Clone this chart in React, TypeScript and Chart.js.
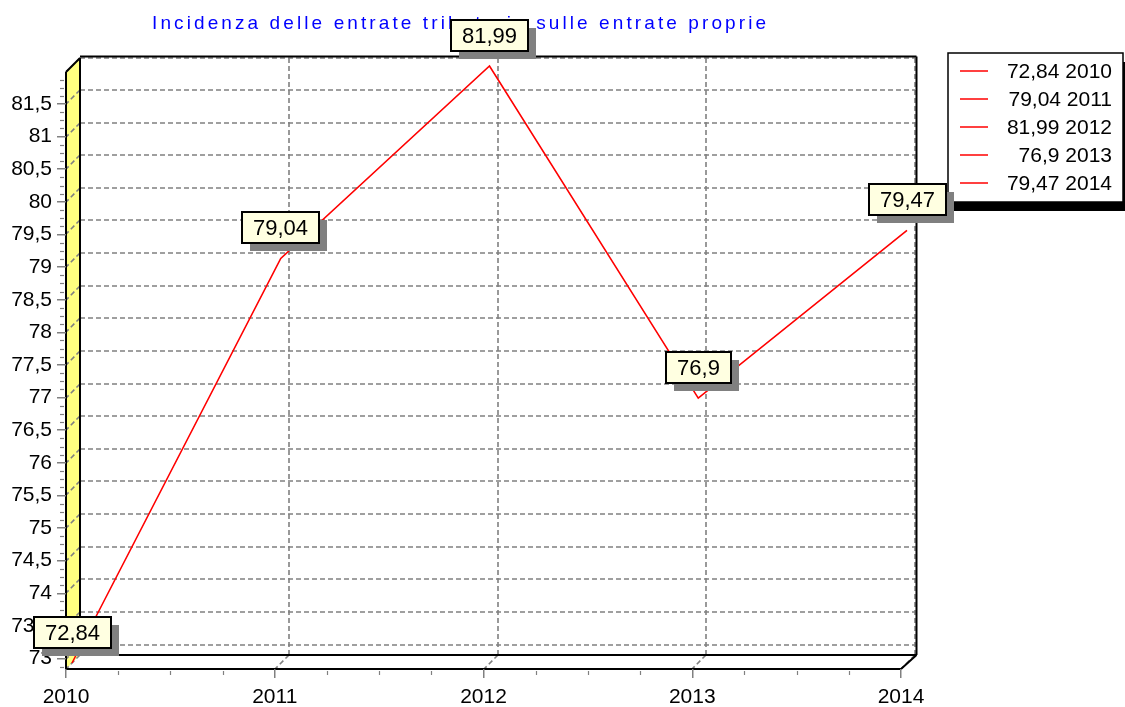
import React, { useEffect, useRef } from 'react';
import { Chart, registerables } from 'chart.js';

Chart.register(...registerables);

// ---- data ----
const years: string[] = ['2010', '2011', '2012', '2013', '2014'];
const values: number[] = [72.84, 79.04, 81.99, 76.9, 79.47];
const yMin = 72.84;
const yMax = 81.99;
const yStep = 0.5;
const yMinorStep = 0.125;
const xMinorPerMajor = 4;
const titleText = 'Incidenza delle entrate tributarie sulle entrate proprie';

const FONT = "'Liberation Sans', Arial, sans-serif";
const D = 14; // 3D depth
const SHIFT = 6; // series depth offset
const GRAY = '#808080';

const fmt = (v: number) => String(Math.round(v * 100) / 100).replace('.', ',');

function seg(ctx: CanvasRenderingContext2D, x1: number, y1: number, x2: number, y2: number) {
  ctx.beginPath();
  ctx.moveTo(x1, y1);
  ctx.lineTo(x2, y2);
  ctx.stroke();
}

const wallsPlugin = {
  id: 'walls3d',
  beforeDraw(chart: any) {
    const { ctx, chartArea: a, scales } = chart;
    const xs = scales.x;
    const ys = scales.y;
    ctx.save();
    ctx.fillStyle = '#ffffff';
    ctx.fillRect(0, 0, chart.width, chart.height);

    // left wall (yellow)
    ctx.fillStyle = '#FFFF80';
    ctx.beginPath();
    ctx.moveTo(a.left, a.top);
    ctx.lineTo(a.left + D, a.top - D);
    ctx.lineTo(a.left + D, a.bottom - D);
    ctx.lineTo(a.left, a.bottom);
    ctx.closePath();
    ctx.fill();

    // dashed grid
    ctx.strokeStyle = GRAY;
    ctx.lineWidth = 1.6;
    ctx.setLineDash([5, 3]);
    const yVals = ys.ticks.map((t: any) => t.value).concat([yMax]);
    yVals.forEach((v: number) => {
      const py = Math.round(ys.getPixelForValue(v));
      seg(ctx, a.left + D, py - D, a.right + D, py - D);
      seg(ctx, a.left + D, py - D, a.left, py);
    });
    xs.ticks.forEach((_t: any, i: number) => {
      const px = Math.round(xs.getPixelForTick(i));
      seg(ctx, px + D, a.top - D, px + D, a.bottom - D);
      seg(ctx, px + D, a.bottom - D, px, a.bottom);
    });
    ctx.setLineDash([]);

    // minor ticks y
    ctx.lineWidth = 1.2;
    ctx.strokeStyle = GRAY;
    for (let v = Math.ceil(yMin / yMinorStep) * yMinorStep; v <= yMax + 1e-9; v += yMinorStep) {
      const r = v / yStep;
      if (Math.abs(r - Math.round(r)) < 1e-6) continue;
      const py = Math.round(ys.getPixelForValue(v)) + 0.5;
      seg(ctx, a.left - 6, py, a.left - 2, py);
    }
    // minor ticks x
    for (let i = 0; i < xs.ticks.length - 1; i++) {
      const p0 = xs.getPixelForTick(i);
      const p1 = xs.getPixelForTick(i + 1);
      for (let k = 1; k < xMinorPerMajor; k++) {
        const px = Math.round(p0 + ((p1 - p0) * k) / xMinorPerMajor) + 0.5;
        seg(ctx, px, a.bottom + 2, px, a.bottom + 6);
      }
    }

    // black outlines
    ctx.strokeStyle = '#000000';
    ctx.lineWidth = 2;
    seg(ctx, a.left, a.top, a.left, a.bottom);
    seg(ctx, a.left, a.top, a.left + D, a.top - D);
    seg(ctx, a.left + D, a.top - D, a.left + D, a.bottom - D);
    seg(ctx, a.left + D, a.top - D - 1.5, a.right + D + 1.5, a.top - D - 1.5);
    seg(ctx, a.right + D + 1.5, a.top - D - 1.5, a.right + D + 1.5, a.bottom - D);
    seg(ctx, a.left + D, a.bottom - D, a.right + D + 1.5, a.bottom - D);
    seg(ctx, a.left, a.bottom, a.right, a.bottom);
    seg(ctx, a.right, a.bottom, a.right + D + 1.5, a.bottom - D);
    ctx.restore();
  },
  beforeDatasetsDraw(chart: any) {
    chart.ctx.save();
    chart.ctx.translate(SHIFT, -SHIFT);
  },
  afterDatasetsDraw(chart: any) {
    chart.ctx.restore();
  },
  afterDraw(chart: any) {
    const { ctx } = chart;
    ctx.save();
    // title
    ctx.font = `19px ${FONT}`;
    (ctx as any).letterSpacing = '3.1px';
    ctx.fillStyle = '#0000FF';
    ctx.textAlign = 'left';
    ctx.textBaseline = 'alphabetic';
    ctx.fillText(titleText, 152, 29);
    (ctx as any).letterSpacing = '0px';

    // legend
    const lx = 948, ly = 53, lw = 175, lh = 149;
    ctx.fillStyle = '#000';
    ctx.fillRect(lx + 5, ly + 9, lw, lh);
    ctx.fillStyle = '#fff';
    ctx.fillRect(lx, ly, lw, lh);
    ctx.strokeStyle = '#000';
    ctx.lineWidth = 1.5;
    ctx.strokeRect(lx, ly, lw, lh);
    ctx.font = `21px ${FONT}`;
    ctx.textAlign = 'right';
    ctx.textBaseline = 'middle';
    values.forEach((v, i) => {
      const ry = ly + 18 + i * 28;
      ctx.strokeStyle = '#FF0000';
      ctx.lineWidth = 1.5;
      seg(ctx, 960, ry, 988, ry);
      ctx.fillStyle = '#000';
      ctx.fillText(`${fmt(v)} ${years[i]}`, 1112, ry + 1);
    });

    // value labels
    const meta = chart.getDatasetMeta(0);
    ctx.font = `22px ${FONT}`;
    ctx.textAlign = 'center';
    ctx.textBaseline = 'middle';
    meta.data.forEach((pt: any, i: number) => {
      const px = pt.x + SHIFT;
      const py = pt.y - SHIFT;
      const text = fmt(values[i]);
      const tw = ctx.measureText(text).width;
      const w = Math.round(tw + 22);
      const h = 31;
      const bx = Math.round(px - w / 2);
      const by = Math.round(py - 15 - h);
      ctx.fillStyle = GRAY;
      ctx.fillRect(bx + 8, by + 8, w, h);
      ctx.fillStyle = '#FFFFE1';
      ctx.fillRect(bx, by, w, h);
      ctx.strokeStyle = '#000';
      ctx.lineWidth = 2;
      ctx.strokeRect(bx, by, w, h);
      ctx.fillStyle = '#000';
      ctx.fillText(text, bx + w / 2, by + h / 2 + 1);
    });
    ctx.restore();
  },
};

export default function App() {
  const ref = useRef<HTMLCanvasElement | null>(null);
  useEffect(() => {
    if (!ref.current) return;
    const chart = new Chart(ref.current, {
      type: 'line',
      data: {
        labels: years,
        datasets: [
          {
            label: 'Incidenza',
            data: values,
            borderColor: '#FF0000',
            borderWidth: 1.6,
            pointRadius: 0,
            tension: 0,
            fill: false,
            clip: false as any,
          },
        ],
      },
      options: {
        responsive: false,
        animation: false,
        devicePixelRatio: 1,
        layout: { padding: { left: 0, top: 72, right: 224, bottom: 0 } },
        plugins: { legend: { display: false }, tooltip: { enabled: false }, title: { display: false } },
        scales: {
          x: {
            type: 'category',
            offset: false,
            afterFit: (s: any) => { s.height = 38; },
            border: { display: false },
            grid: { drawOnChartArea: false, drawTicks: true, tickLength: 9, color: GRAY, lineWidth: 1.5 },
            ticks: { color: '#000', font: { family: FONT, size: 21 }, padding: 7, maxRotation: 0, autoSkip: false },
          },
          y: {
            type: 'linear',
            min: yMin,
            max: yMax,
            afterFit: (s: any) => { s.width = 66; },
            afterBuildTicks: (s: any) => {
              s.ticks = s.ticks.filter((t: any) => t.value >= yMin - 1e-9 && t.value <= yMax + 1e-9);
            },
            border: { display: false },
            grid: { drawOnChartArea: false, drawTicks: true, tickLength: 9, color: GRAY, lineWidth: 1.5 },
            ticks: {
              stepSize: yStep,
              includeBounds: false,
              autoSkip: false,
              color: '#000',
              font: { family: FONT, size: 21 },
              padding: 5,
              callback: (v: any) => fmt(Number(v)),
            },
          },
        },
      },
      plugins: [wallsPlugin],
    });
    return () => chart.destroy();
  }, []);
  return (
    <div style={{ position: 'absolute', left: 0, top: 0 }}>
      <canvas ref={ref} width={1125} height={707} style={{ display: 'block' }} />
    </div>
  );
}
